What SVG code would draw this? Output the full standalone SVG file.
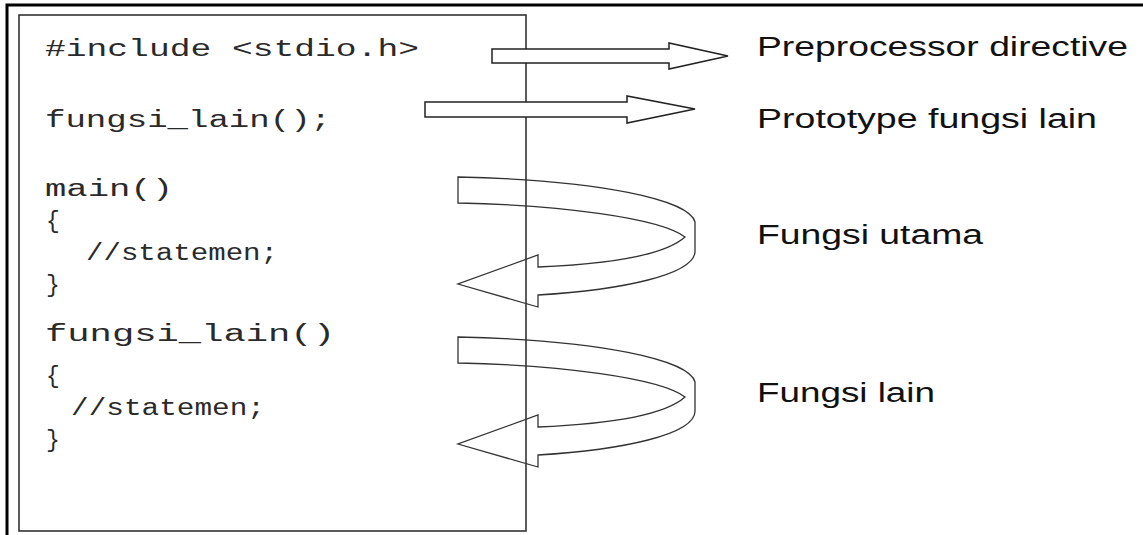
<svg xmlns="http://www.w3.org/2000/svg" width="1143" height="535" viewBox="0 0 1143 535">
  <defs>
    <style>
      .code { font-family: "Liberation Mono", "DejaVu Sans Mono", monospace; font-size: 23px; fill: #2a2a2a; }
      .label { font-family: "Liberation Sans", Arial, sans-serif; font-size: 27px; fill: #111; }
      .frame { fill: none; stroke: #000; stroke-width: 3; }
      .box { fill: none; stroke: #333; stroke-width: 1.6; }
      .arrow { fill: #fff; stroke: #222; stroke-width: 1.5; stroke-linejoin: miter; }
      .ribbon { fill: none; stroke: #333; stroke-width: 1.3; stroke-linejoin: miter; }
    </style>
    <!-- curled block arrow: tail at left, loops round on the right, head pointing back left -->
    <path id="curl" d="M458,177 L458,203 C560,205 660,218 685,237 C665,255 610,264 538,267 L538,255 L458,284 L538,307 L538,295 C620,290 697,275 695,250 L695,222 C690,200 600,180 458,177 Z"/>
  </defs>

  <rect width="1143" height="535" fill="#fff"/>

  <!-- outer frame (top and left edges) -->
  <path class="frame" d="M1143,5 L7,5 L7,535"/>

  <!-- source listing -->
  <g id="listing">
    <rect class="box" x="19" y="15" width="507" height="516"/>
    <text class="code" x="45" y="56" textLength="374" lengthAdjust="spacingAndGlyphs">#include &lt;stdio.h&gt;</text>
    <text class="code" x="45" y="127" textLength="286" lengthAdjust="spacingAndGlyphs">fungsi_lain();</text>
    <text class="code" x="45" y="196" textLength="128" lengthAdjust="spacingAndGlyphs">main()</text>
    <text class="code" x="46" y="228">{</text>
    <text class="code" x="86" y="260" textLength="192" lengthAdjust="spacingAndGlyphs">//statemen;</text>
    <text class="code" x="46" y="292">}</text>
    <text class="code" x="45" y="341" textLength="290" lengthAdjust="spacingAndGlyphs">fungsi_lain()</text>
    <text class="code" x="46" y="383">{</text>
    <text class="code" x="71" y="415" textLength="194" lengthAdjust="spacingAndGlyphs">//statemen;</text>
    <text class="code" x="46" y="447">}</text>
  </g>

  <!-- connectors -->
  <g id="connectors">
    <path id="arrow-preprocessor" class="arrow" d="M492,49 L669,49 L669,43 L728,56 L669,69 L669,63 L492,63 Z"/>
    <path id="arrow-prototype" class="arrow" d="M425,102 L627,102 L627,96 L695,109 L627,123 L627,117 L425,117 Z"/>
    <use id="curl-main" href="#curl" class="ribbon"/>
    <use id="curl-fungsi" href="#curl" class="ribbon" transform="translate(0,160)"/>
  </g>

  <g id="label-preprocessor">
    <text class="label" x="757" y="56" textLength="371" lengthAdjust="spacingAndGlyphs">Preprocessor directive</text>
  </g>
  <g id="label-prototype">
    <text class="label" x="757" y="128" textLength="340" lengthAdjust="spacingAndGlyphs">Prototype fungsi lain</text>
  </g>
  <g id="label-utama">
    <text class="label" x="757" y="244" textLength="226" lengthAdjust="spacingAndGlyphs">Fungsi utama</text>
  </g>
  <g id="label-lain">
    <text class="label" x="757" y="402" textLength="178" lengthAdjust="spacingAndGlyphs">Fungsi lain</text>
  </g>
</svg>
